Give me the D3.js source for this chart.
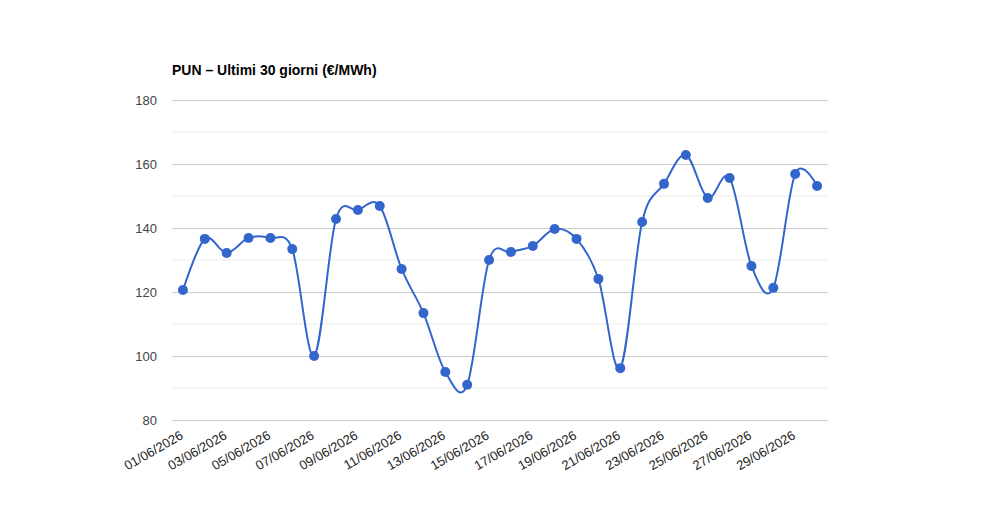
<!DOCTYPE html>
<html>
<head>
<meta charset="utf-8">
<script src="https://cdn.jsdelivr.net/npm/d3@7"></script>
<style>
  body { margin: 0; background: #fff; }
  svg { font-family: Arial, "Liberation Sans", sans-serif; }
</style>
</head>
<body>
<div id="chart"></div>
<script>
'use strict';

// PUN daily prices, June 2026
var days = d3.range(1, 31).map(function (d) {
    return (d < 10 ? '0' + d : '' + d) + '/06/2026';
});
var prices = [
    120.6, 136.6, 132.2, 136.9, 136.9, 133.4, 100.0, 142.8, 145.6, 146.9,
    127.2, 113.4, 95.0, 91.0, 130.0, 132.5, 134.4, 139.7, 136.6, 124.1,
    96.2, 141.9, 153.8, 162.8, 149.4, 155.6, 128.1, 121.3, 156.9, 153.1
];
var yTicks = [80, 100, 120, 140, 160, 180];
var yMinor = [90, 110, 130, 150, 170];
var titleText = 'PUN \u2013 Ultimi 30 giorni (\u20AC/MWh)';

var width = 1000, height = 520;
var margin = { top: 100, right: 172, bottom: 100, left: 172 };

var svg = d3.select('#chart').append('svg')
    .attr('width', width)
    .attr('height', height);

var x = d3.scalePoint()
    .domain(days)
    .range([margin.left, width - margin.right])
    .padding(0.5);

var y = d3.scaleLinear()
    .domain([80, 180])
    .range([height - margin.bottom, margin.top]);

// minor gridlines
svg.append('g').selectAll('line')
    .data(yMinor)
    .join('line')
        .attr('x1', margin.left)
        .attr('x2', width - margin.right)
        .attr('y1', function (d) { return y(d); })
        .attr('y2', function (d) { return y(d); })
        .attr('stroke', '#ebebeb')
        .attr('stroke-width', 1);

// y axis with major gridlines
var yAxis = svg.append('g')
    .attr('transform', 'translate(' + margin.left + ',0)')
    .call(d3.axisLeft(y).tickValues(yTicks)
        .tickSize(-(width - margin.left - margin.right))
        .tickPadding(15));
yAxis.select('.domain').remove();
yAxis.selectAll('.tick line').attr('stroke', '#cccccc');
yAxis.selectAll('.tick text')
    .attr('fill', '#444')
    .style('font-size', '13px');

// x labels every other day, rotated
svg.append('g').selectAll('text')
    .data(days.filter(function (d, i) { return i % 2 === 0; }))
    .join('text')
        .attr('transform', function (d) {
            return 'translate(' + (x(d) + 1) + ',' + (height - margin.bottom + 18) + ') rotate(-30)';
        })
        .attr('text-anchor', 'end')
        .attr('fill', '#222')
        .style('font-size', '13px')
        .text(function (d) { return d; });

// title
svg.append('text')
    .attr('x', margin.left)
    .attr('y', 75)
    .attr('fill', '#000')
    .style('font-size', '14px')
    .style('font-weight', 'bold')
    .text(titleText);

// line
var line = d3.line()
    .x(function (d, i) { return x(days[i]); })
    .y(function (d) { return y(d); })
    .curve(d3.curveCardinal.tension(0));

svg.append('path')
    .datum(prices)
    .attr('d', line)
    .attr('fill', 'none')
    .attr('stroke', '#3366cc')
    .attr('stroke-width', 2);

// points
svg.append('g').selectAll('circle')
    .data(prices)
    .join('circle')
        .attr('cx', function (d, i) { return x(days[i]); })
        .attr('cy', function (d) { return y(d); })
        .attr('r', 5)
        .attr('fill', '#3366cc');
</script>
</body>
</html>
